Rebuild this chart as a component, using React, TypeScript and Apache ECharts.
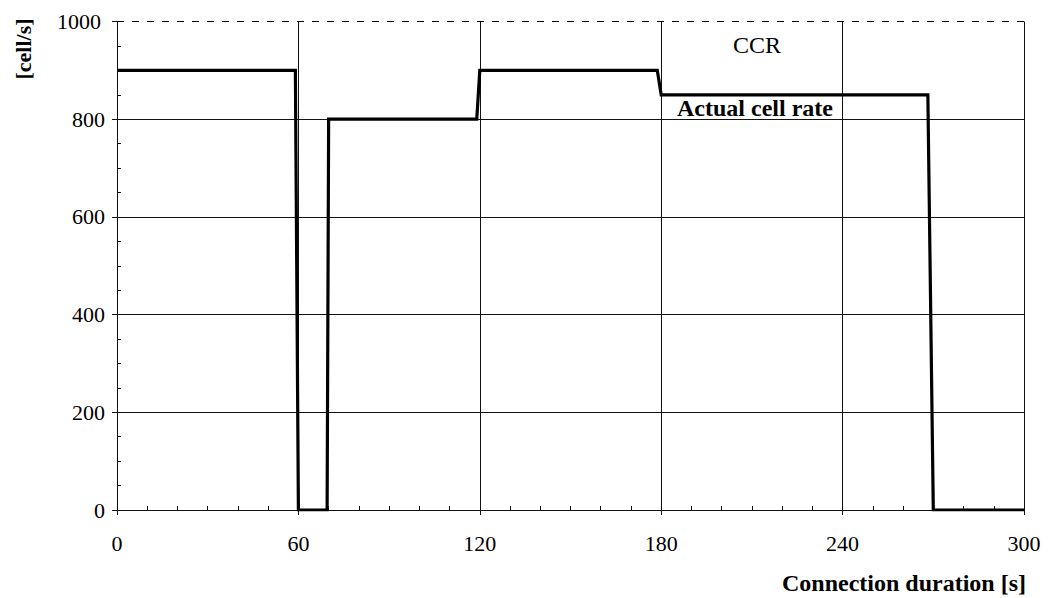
import React, { useEffect, useRef } from "react";
import * as echarts from "echarts";

const timeS = [0, 59, 60, 69.5, 70, 119, 120, 178.7, 180, 268.2, 270, 300];
const cellRate = [900, 900, 0, 0, 800, 800, 900, 900, 850, 850, 0, 0];
const ccrTime = [0, 300];
const ccrValue = [1000, 1000];
const xTicks = [0, 60, 120, 180, 240, 300];
const yTicks = [0, 200, 400, 600, 800, 1000];

const FONT = "'Liberation Serif', 'Times New Roman', serif";

export default function App() {
  const ref = useRef<HTMLDivElement>(null);
  useEffect(() => {
    if (!ref.current) return;
    const chart = echarts.init(ref.current, undefined, { renderer: "svg" });
    const gridColor = "#111111";
    const axisCommon = {
      min: xTicks[0],
      max: xTicks[xTicks.length - 1],
      interval: 60,
    };
    chart.setOption({
      animation: false,
      backgroundColor: "#ffffff",
      textStyle: { fontFamily: FONT, color: "#000" },
      grid: { left: 117, right: 26, top: 21.5, bottom: 88, containLabel: false },
      xAxis: [
        {
          type: "value",
          ...axisCommon,
          axisLine: { show: true, lineStyle: { color: gridColor, width: 1 } },
          axisTick: { show: true, inside: true, length: 4, lineStyle: { color: gridColor } },
          minorTick: { show: true, splitNumber: 6, length: 4, lineStyle: { color: gridColor } },
          splitLine: { show: true, showMinLine: false, showMaxLine: true, lineStyle: { color: gridColor, width: 1 } },
          axisLabel: { show: true, margin: 22, fontSize: 22, fontFamily: FONT, color: "#000" },
        },
        {
          type: "value",
          ...axisCommon,
          position: "bottom",
          axisLine: { show: false },
          axisTick: { show: true, inside: false, length: 5, lineStyle: { color: gridColor } },
          axisLabel: { show: false },
          splitLine: { show: false },
        },
      ],
      yAxis: [
        {
          type: "value",
          min: yTicks[0],
          max: yTicks[yTicks.length - 1],
          interval: 200,
          axisLine: { show: true, lineStyle: { color: gridColor, width: 1 } },
          axisTick: { show: true, inside: true, length: 4, lineStyle: { color: gridColor } },
          minorTick: { show: true, splitNumber: 4, length: 4, lineStyle: { color: gridColor } },
          splitLine: { show: true, showMinLine: false, showMaxLine: false, lineStyle: { color: gridColor, width: 1 } },
          axisLabel: {
            show: true,
            margin: 12,
            fontSize: 22,
            fontFamily: FONT,
            color: "#000",
            formatter: (v: number) => (v === 1000 ? "{a|1000}" : String(v)),
            rich: { a: { fontSize: 22, fontFamily: FONT, color: "#000", padding: [0, 4, 0, 0] } },
          },
        },
        {
          type: "value",
          min: yTicks[0],
          max: yTicks[yTicks.length - 1],
          interval: 200,
          position: "left",
          axisLine: { show: false },
          axisTick: {
            show: true,
            inside: false,
            length: 5,
            lineStyle: { color: gridColor },
            interval: (i: number, v: any) => Number(v) !== 1000,
          },
          axisLabel: { show: false },
          splitLine: { show: false },
        },
      ],
      series: [
        {
          name: "CCR",
          type: "line",
          xAxisIndex: 0,
          yAxisIndex: 0,
          data: ccrTime.map((t, i) => [t, ccrValue[i]]),
          showSymbol: false,
          symbol: "none",
          lineStyle: { color: "#000", width: 1, type: [7, 8] },
          z: 3,
        },
        {
          name: "Actual cell rate",
          type: "line",
          xAxisIndex: 0,
          yAxisIndex: 0,
          data: timeS.map((t, i) => [t, cellRate[i]]),
          showSymbol: false,
          symbol: "none",
          lineStyle: { color: "#000", width: 3.2, join: "miter" },
          z: 4,
        },
      ],
      graphic: [
        {
          type: "text",
          x: 23,
          y: 49,
          rotation: Math.PI / 2,
          style: {
            text: "[cell/s]",
            font: `bold 22px ${FONT}`,
            fill: "#000",
            align: "center",
            verticalAlign: "middle",
          },
        },
        {
          type: "text",
          x: 1026,
          y: 583,
          style: {
            text: "Connection duration [s]",
            font: `bold 24px ${FONT}`,
            fill: "#000",
            align: "right",
            verticalAlign: "middle",
          },
        },
        {
          type: "text",
          x: 757,
          y: 45,
          style: {
            text: "CCR",
            font: `24px ${FONT}`,
            fill: "#000",
            align: "center",
            verticalAlign: "middle",
          },
        },
        {
          type: "text",
          x: 755,
          y: 108,
          style: {
            text: "Actual cell rate",
            font: `bold 24px ${FONT}`,
            fill: "#000",
            align: "center",
            verticalAlign: "middle",
          },
        },
      ],
    });
    return () => chart.dispose();
  }, []);
  return (
    <div
      ref={ref}
      style={{ position: "absolute", left: 0, top: 0, width: 1050, height: 598 }}
    />
  );
}
